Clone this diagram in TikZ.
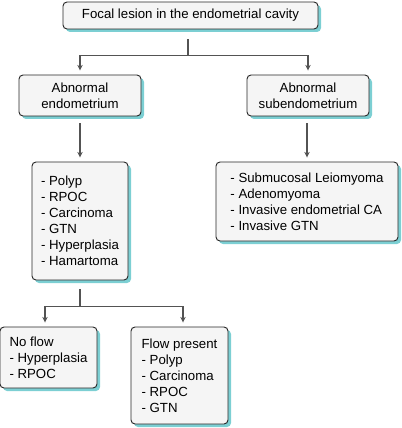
\documentclass[tikz,border=0pt]{standalone}
\usepackage{fontspec}
\setmainfont{Liberation Sans}
\usetikzlibrary{arrows.meta,shadows,calc}
\definecolor{shadowc}{RGB}{124,207,211}
\definecolor{boxfill}{RGB}{245,245,245}
\definecolor{edgec}{RGB}{40,40,40}
\begin{document}
\begin{tikzpicture}[
  x=0.03cm, y=-0.03cm,
  box/.style={draw=edgec, line width=0.8pt, fill=boxfill, rounded corners=4*0.03cm,
    align=center, inner sep=0pt,
    font=\fontsize{11.3}{13.7}\selectfont,
    drop shadow={shadow xshift=0.09cm, shadow yshift=-0.09cm, fill=shadowc, opacity=1}},
  lst/.style={box, align=left},
  link/.style={draw=edgec!80, line width=0.9pt},
  arr/.style={link, -{Stealth[length=1.7mm, width=1.6mm]}, shorten >=0.12cm}
]
  \useasboundingbox (0,0) rectangle (402,428);

  % --- top level ---------------------------------------------------------
  \node[box, minimum width=255*0.03cm, minimum height=27*0.03cm] (top) at (190.5,15.5)
    {Focal lesion in the endometrial cavity};

  \node[box, minimum width=122*0.03cm, minimum height=41*0.03cm] (endo) at (80,95.5)
    {Abnormal\\endometrium};
  \node[box, minimum width=122*0.03cm, minimum height=41*0.03cm] (subendo) at (308,95.5)
    {Abnormal\\subendometrium};

  \draw[link] ($(top.south)+(-2.5,10)$) -- ++(0,16) coordinate (tj);
  \draw[arr] (tj) -| (endo.north);
  \draw[arr] (tj) -| (subendo.north);

  % --- lists -------------------------------------------------------------
  \node[lst, minimum width=96*0.03cm, minimum height=118*0.03cm] (endolist) at (80,221)
    {- Polyp\\- RPOC\\- Carcinoma\\- GTN\\- Hyperplasia\\- Hamartoma};
  \node[lst, minimum width=182*0.03cm, minimum height=79*0.03cm] (sublist) at (307,201.5)
    {- Submucosal Leiomyoma\\- Adenomyoma\\- Invasive endometrial CA\\- Invasive GTN};

  \draw[arr] ($(endo.south)+(0,7)$) -- (endolist.north);
  \draw[arr] ($(subendo.south)+(-1,7)$) -- ($(sublist.north)+(0,0)$);

  % --- flow -------------------------------------------------------------
  \node[lst, minimum width=97*0.03cm, minimum height=61*0.03cm] (noflow) at (48.5,357.5)
    {No flow\\- Hyperplasia\\- RPOC};
  \node[lst, minimum width=97*0.03cm, minimum height=97*0.03cm] (flow) at (179.5,375.5)
    {Flow present\\- Polyp\\- Carcinoma\\- RPOC\\- GTN};

  \draw[link] ($(endolist.south)+(0,9)$) -- ++(0,17) coordinate (fj);
  \draw[arr] (fj) -| ($(noflow.north)+(-3.5,0)$);
  \draw[arr] (fj) -| ($(flow.north)+(3.5,0)$);
\end{tikzpicture}
\end{document}
